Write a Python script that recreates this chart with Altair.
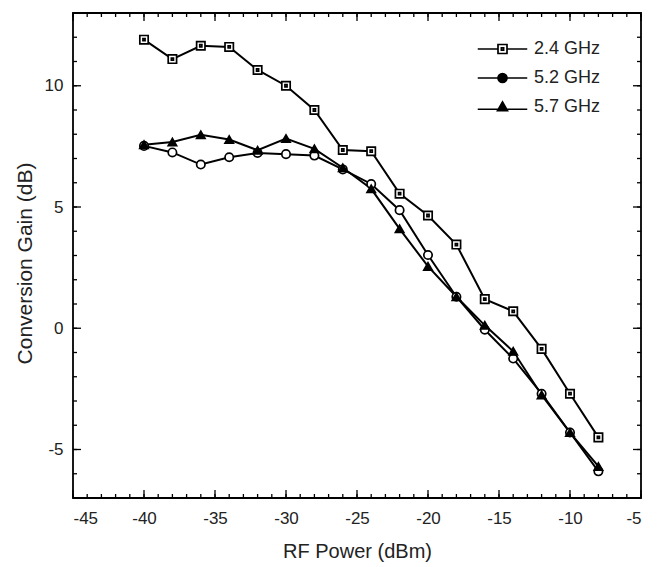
import altair as alt
import pandas as pd

power = [-40, -38, -36, -34, -32, -30, -28, -26, -24, -22, -20, -18, -16, -14, -12, -10, -8]
gain_24 = [11.9, 11.1, 11.65, 11.6, 10.65, 10.0, 9.0, 7.35, 7.3, 5.55, 4.65, 3.45, 1.2, 0.7, -0.85, -2.7, -4.5]
gain_52 = [7.52, 7.25, 6.75, 7.05, 7.23, 7.18, 7.12, 6.55, 5.95, 4.87, 3.02, 1.3, -0.06, -1.25, -2.7, -4.3, -5.9]
gain_57 = [7.57, 7.68, 7.98, 7.78, 7.34, 7.82, 7.4, 6.62, 5.75, 4.1, 2.55, 1.3, 0.12, -0.95, -2.75, -4.3, -5.7]
series = ["2.4 GHz", "5.2 GHz", "5.7 GHz"]

x_major = [-45, -40, -35, -30, -25, -20, -15, -10, -5]
x_minor = list(range(-45, -4))
y_major = [-5, 0, 5, 10]
y_minor = list(range(-7, 14))

rows = []
for name, vals in zip(series, [gain_24, gain_52, gain_57]):
    for p, g in zip(power, vals):
        rows.append({"power": p, "gain": g, "series": name})
df = pd.DataFrame(rows)

W, H = 568, 485
xs = alt.Scale(domain=[-45, -5], nice=False, zero=False)
ys = alt.Scale(domain=[-7, 13], nice=False, zero=False)
FONT = "Liberation Sans"

sq_path = "M-1,-1H1V1H-1Z M-0.25,-0.25H0.25V0.25H-0.25Z"
sq_leg = "M-5.5,0H-1 M1,0H5.5 M-1,-1H1V1H-1Z M-0.25,-0.25H0.25V0.25H-0.25Z"
ci_leg = "M-5.5,0H5.5 M-1,0A1,1 0 1,0 1,0A1,1 0 1,0 -1,0Z"
tr_leg = "M-5.5,0.5H5.5 M0,-1.1L1.1,0.8H-1.1Z"

x_enc = alt.X(
    "power:Q", scale=xs,
    axis=alt.Axis(values=x_major, ticks=False, domain=False, grid=False,
                  labelExpr="datum.value + ''", labelFontSize=17, labelPadding=12,
                  labelColor="#222", title="RF Power (dBm)", titleFontSize=20,
                  titleFontWeight="normal", titlePadding=15, titleColor="#222",
                  labelFont=FONT, titleFont=FONT),
)
y_enc = alt.Y(
    "gain:Q", scale=ys,
    axis=alt.Axis(values=y_major, ticks=False, domain=False, grid=False,
                  labelExpr="datum.value + ''", labelFontSize=17, labelPadding=10,
                  labelColor="#222", title="Conversion Gain (dB)", titleFontSize=21,
                  titleFontWeight="normal", titlePadding=9, titleColor="#222",
                  titleY=250, labelFont=FONT, titleFont=FONT),
)

lines = alt.Chart(df).mark_line(color="black", strokeWidth=2).encode(
    x=x_enc, y=y_enc, detail="series:N"
)

points = alt.Chart(df).mark_point(size=70, strokeWidth=1.7, opacity=1, filled=True,
                                  stroke="black").encode(
    x="power:Q",
    y="gain:Q",
    shape=alt.Shape("series:N", scale=alt.Scale(domain=series, range=[sq_path, "circle", "triangle-up"]),
                    legend=None),
    fill=alt.Fill("series:N", scale=alt.Scale(domain=series, range=["white", "white", "black"]), legend=None),
)

leg = alt.Legend(title=None, orient="none", legendX=420.5, legendY=27,
                 labelFontSize=18, labelFont=FONT, labelColor="#222",
                 labelOffset=22.5, rowPadding=11, padding=0,
                 symbolSize=81, symbolOpacity=1, symbolStrokeColor="black",
                 symbolStrokeWidth=1.7)

legend_layer = alt.Chart(df).transform_filter("false").mark_point(
    filled=True, strokeWidth=1.7, size=81
).encode(
    shape=alt.Shape("series:N", scale=alt.Scale(domain=series, range=[sq_leg, ci_leg, tr_leg]), legend=leg),
    fill=alt.Fill("series:N", scale=alt.Scale(domain=series, range=["white", "black", "black"]), legend=leg),
    stroke=alt.Stroke("series:N", scale=alt.Scale(domain=series, range=["black", "black", "black"]), legend=leg),
)


def xticks(vals, y0, y1):
    return alt.Chart(pd.DataFrame({"v": vals})).mark_rule(color="black", strokeWidth=1.3).encode(
        x=alt.X("v:Q", scale=xs), y=alt.value(y0), y2=alt.value(y1))


def yticks(vals, x0, x1):
    return alt.Chart(pd.DataFrame({"v": vals})).mark_rule(color="black", strokeWidth=1.3).encode(
        y=alt.Y("v:Q", scale=ys), x=alt.value(x0), x2=alt.value(x1))


ML, mL = 8, 4
tick_layers = [
    xticks(x_major, H, H - ML), xticks(x_minor, H, H - mL),
    xticks(x_major, 0, ML), xticks(x_minor, 0, mL),
    yticks(y_major, 0, ML), yticks(y_minor, 0, mL),
    yticks(y_major, W, W - ML), yticks(y_minor, W, W - mL),
]

chart = alt.layer(lines, points, legend_layer, *tick_layers).resolve_scale(
    shape="independent", fill="independent", stroke="independent"
).properties(
    width=W, height=H,
    background="white",
    autosize=alt.AutoSizeParams(type="none"),
    padding={"left": 65, "top": 5, "right": 5, "bottom": 72},
).configure_view(stroke="black", strokeWidth=1.8)

chart.save("out.html", embed_options={"renderer": "svg", "actions": False})
